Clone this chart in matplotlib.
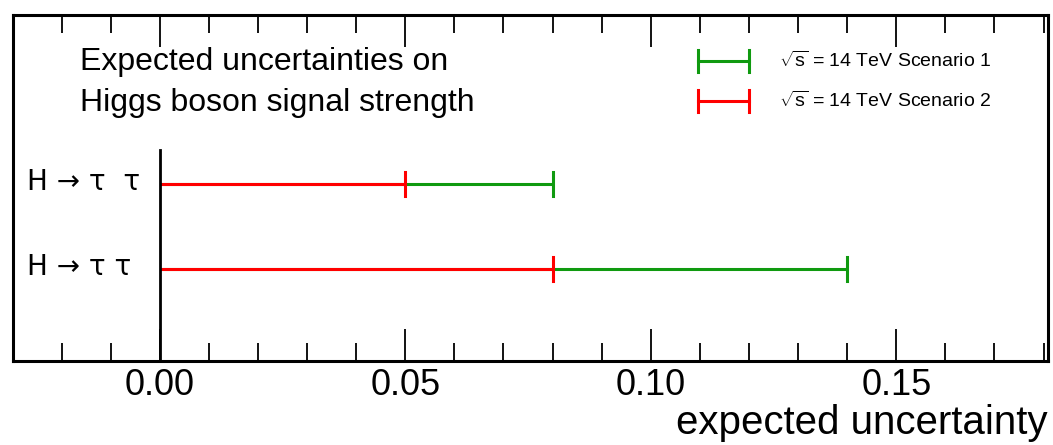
import numpy as np
import matplotlib.pyplot as plt
from matplotlib.ticker import MultipleLocator

# data
channels = ["H \u2192 \u03c4  \u03c4", "H \u2192 \u03c4 \u03c4"]
ypos = [2, 1]
scen1 = [0.08, 0.14]   # sqrt(s)=14 TeV Scenario 1 (green)
scen2 = [0.05, 0.08]   # sqrt(s)=14 TeV Scenario 2 (red)
labels = [r"$\sqrt{\mathrm{s}}$ = 14 TeV Scenario 1", r"$\sqrt{\mathrm{s}}$ = 14 TeV Scenario 2"]
colors = ["#109a10", "#ff0000"]

plt.rcParams['font.family'] = ['Liberation Sans', 'DejaVu Sans']
plt.rcParams['mathtext.fontset'] = 'custom'
plt.rcParams['mathtext.rm'] = 'Liberation Sans'
plt.rcParams['mathtext.it'] = 'Liberation Sans:italic'

fig = plt.figure(figsize=(10.53, 4.45), dpi=100)
ax = fig.add_axes([13/1053, 1-361/445, (1048-13)/1053, (361-15)/445])
ax.set_xlim(-0.0299, 0.1809)
ax.set_ylim(-0.08, 3.99)

# green drawn first, red over it
for vals, c in [(scen1, colors[0]), (scen2, colors[1])]:
    for v, y in zip(vals, ypos):
        ax.plot([0, v], [y, y], color=c, lw=2.2, solid_capstyle='butt')
        ax.plot([v, v], [y-0.14, y+0.14], color=c, lw=2.2)

ax.plot([0, 0], [-0.08, 2.4], color='black', lw=2)

for lab, y in zip(channels, ypos):
    ax.text(0.014, y + 0.03, lab, transform=ax.get_yaxis_transform(), fontsize=20,
            va='center', ha='left', family=['DejaVu Sans'])

ax.text(0.065, 3.44, "Expected uncertainties on", transform=ax.get_yaxis_transform(),
        fontsize=23, va='center')
ax.text(0.065, 2.96, "Higgs boson signal strength", transform=ax.get_yaxis_transform(),
        fontsize=23, va='center')

# legend drawn by hand
for i, (lab, c) in enumerate(zip(labels, colors)):
    yl = 3.45 - i*0.47
    ax.plot([0.1096, 0.1200], [yl, yl], color=c, lw=2.2)
    for xe in (0.1096, 0.1200):
        ax.plot([xe, xe], [yl-0.13, yl+0.13], color=c, lw=2.2)
    ax.text(0.1262, yl, lab, fontsize=14, va='center')

ax.xaxis.set_major_locator(MultipleLocator(0.05))
ax.xaxis.set_minor_locator(MultipleLocator(0.01))
ax.tick_params(axis='x', which='both', direction='in', top=True, bottom=True, pad=5)
ax.tick_params(axis='x', which='major', length=23, width=1.3, labelsize=26)
ax.tick_params(axis='x', which='minor', length=13, width=1.3)
ax.set_yticks([])
ax.xaxis.set_major_formatter(plt.FuncFormatter(lambda v, p: f"{v:.2f}"))
for s in ax.spines.values():
    s.set_linewidth(2.2)

ax.set_xlabel("expected uncertainty", fontsize=29, loc='right', labelpad=1)

fig.savefig("out.png", dpi=100)
